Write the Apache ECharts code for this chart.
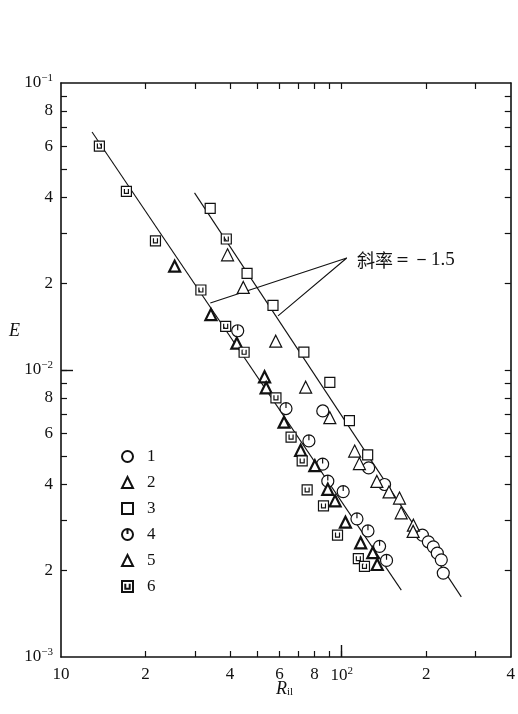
<!DOCTYPE html>
<html>
<head>
<meta charset="utf-8">
<script src="https://cdn.jsdelivr.net/npm/echarts@6/dist/echarts.min.js"></script>
<style>
  html, body { margin: 0; padding: 0; background: #fff; }
  #chart { width: 518px; height: 714px; }
</style>
</head>
<body>
<div id="chart"></div>
<script>
// Measured points: [R, E] pairs per run
const run1 = [[85.6, 0.00720], [124.7, 0.00456], [142.1, 0.00399], [193.8, 0.00266], [203.5, 0.00252],
  [212.0, 0.00242], [219.0, 0.00230], [226.3, 0.00218], [230.0, 0.00196]];
const run2 = [[39.2, 0.0252], [44.6, 0.0194], [58.2, 0.0126], [74.4, 0.00871], [90.7, 0.00682],
  [111.2, 0.00522], [115.6, 0.00472], [133.4, 0.00409], [147.4, 0.00376], [160.6, 0.00358],
  [162.8, 0.00318], [180.0, 0.00288], [179.6, 0.00274]];
const run3 = [[34.0, 0.0366], [46.0, 0.0217], [56.9, 0.0168], [73.3, 0.01155], [90.7, 0.00906],
  [106.5, 0.00666], [123.7, 0.00506]];
const run4 = [[42.6, 0.0137], [63.3, 0.00734], [76.4, 0.00566], [85.5, 0.00470], [89.2, 0.00410],
  [101.2, 0.00377], [113.3, 0.00303], [124.0, 0.00275], [136.4, 0.00243], [144.4, 0.00217]];
const run5 = [[25.4, 0.0230], [34.2, 0.0156], [42.3, 0.0124], [53.1, 0.00947], [53.8, 0.00867],
  [62.3, 0.00658], [71.4, 0.00525], [80.2, 0.00464], [89.2, 0.00384], [94.7, 0.00350],
  [103.1, 0.00295], [116.8, 0.00250], [129.0, 0.00231], [133.8, 0.00210]];
const run6 = [[13.7, 0.0603], [17.1, 0.0419], [21.7, 0.0282], [31.5, 0.0190], [38.6, 0.0142],
  [38.8, 0.0286], [44.9, 0.01153], [58.3, 0.00800], [66.0, 0.00584], [72.3, 0.00482],
  [75.3, 0.00382], [86.1, 0.00336], [96.6, 0.00266], [114.6, 0.00220], [120.5, 0.00207]];

// Two fitted lines of slope -1.5
const fitLower = [[12.9, 0.0675], [163, 0.00171]];
const fitUpper = [[29.9, 0.0414], [266.6, 0.00162]];
// Leader lines from the slope note to both fits
const leader = [[34.03, 0.01712], [104.2, 0.02456], [59.3, 0.01543]];

// Axis ticks and labels
const xTicks = [20, 30, 40, 50, 60, 70, 80, 90, 100, 200, 300];
const xLabels = [10, 20, 40, 60, 80, 100, 200, 400];
const yTicks = [0.002, 0.003, 0.004, 0.005, 0.006, 0.007, 0.008, 0.009, 0.01,
  0.02, 0.03, 0.04, 0.05, 0.06, 0.07, 0.08, 0.09];
const yLabels = [0.001, 0.002, 0.004, 0.006, 0.008, 0.01, 0.02, 0.04, 0.06, 0.08, 0.1];

const seriesNames = ['1', '2', '3', '4', '5', '6'];

const SERIF = '"Liberation Serif", "DejaVu Serif", serif';
const INK = '#111';

function logLabel(v) {
  const e = Math.floor(Math.log10(v) + 1e-9);
  const m = Math.round(v / Math.pow(10, e));
  if (m !== 1) return String(m);
  if (e === 1) return '10';
  return '{b|10}{s|' + (e < 0 ? '\u2212' + (-e) : e) + '}';
}

const labelRich = {
  b: { fontFamily: SERIF, fontSize: 17, color: INK },
  s: { fontFamily: SERIF, fontSize: 11, color: INK, verticalAlign: 'top', padding: [0, 0, 9, 0] }
};

// Marker shapes
const symCircleTick = 'path://M0,-10A10,10 0 1,1 0,10A10,10 0 1,1 0,-10ZM0,-10L0,-1';
const symSquareTick = 'path://M-10,-10L10,-10L10,10L-10,10ZM-4,-5L-4,4L4,4L4,-5';

function scatter(name, data, symbol, size, bw) {
  return {
    name: name, type: 'scatter', data: data, symbol: symbol, symbolSize: size,
    itemStyle: { color: '#fff', borderColor: INK, borderWidth: bw, opacity: 1 },
    z: 5
  };
}

function line(name, data) {
  return {
    name: name, type: 'line', data: data, showSymbol: false, symbol: 'none',
    lineStyle: { color: INK, width: 1.1 }, silent: true, z: 3
  };
}

const frameLine = { show: true, lineStyle: { color: INK, width: 1.6 } };

const chart = echarts.init(document.getElementById('chart'));
chart.setOption({
  animation: false,
  backgroundColor: '#fff',
  grid: { left: 61, right: 5, top: 83, bottom: 57 },
  xAxis: [
    {
      type: 'log', logBase: 10, min: 10, max: 400, position: 'bottom',
      axisLine: frameLine,
      axisTick: { show: true, inside: true, length: 6, customValues: xTicks, lineStyle: { color: INK, width: 1.2 } },
      axisLabel: { customValues: xLabels, formatter: logLabel, margin: 9, color: INK,
        fontFamily: SERIF, fontSize: 17, rich: labelRich },
      splitLine: { show: false }, minorTick: { show: false }
    },
    {
      type: 'log', logBase: 10, min: 10, max: 400, position: 'top',
      axisLine: frameLine,
      axisTick: { show: true, inside: true, length: 6, customValues: xTicks, lineStyle: { color: INK, width: 1.2 } },
      axisLabel: { show: false }, splitLine: { show: false }
    },
    {
      type: 'log', logBase: 10, min: 10, max: 400, position: 'bottom',
      axisLine: { show: false },
      axisTick: { show: true, inside: true, length: 12, customValues: [100], lineStyle: { color: INK, width: 1.4 } },
      axisLabel: { show: false }, splitLine: { show: false }
    }
  ],
  yAxis: [
    {
      type: 'log', logBase: 10, min: 0.001, max: 0.1, position: 'left',
      axisLine: frameLine,
      axisTick: { show: true, inside: true, length: 6, customValues: yTicks, lineStyle: { color: INK, width: 1.2 } },
      axisLabel: { customValues: yLabels, formatter: logLabel, margin: 8, color: INK,
        fontFamily: SERIF, fontSize: 17, rich: labelRich },
      splitLine: { show: false }, minorTick: { show: false }
    },
    {
      type: 'log', logBase: 10, min: 0.001, max: 0.1, position: 'right',
      axisLine: frameLine,
      axisTick: { show: true, inside: true, length: 6, customValues: yTicks, lineStyle: { color: INK, width: 1.2 } },
      axisLabel: { show: false }, splitLine: { show: false }
    },
    {
      type: 'log', logBase: 10, min: 0.001, max: 0.1, position: 'left',
      axisLine: { show: false },
      axisTick: { show: true, inside: true, length: 12, customValues: [0.01], lineStyle: { color: INK, width: 1.4 } },
      axisLabel: { show: false }, splitLine: { show: false }
    }
  ],
  legend: {
    data: seriesNames, orient: 'vertical', left: 116, top: 443,
    itemWidth: 11, itemHeight: 11, itemGap: 9,
    textStyle: { fontFamily: SERIF, fontSize: 17, color: INK, padding: [0, 0, 0, 9] },
    selectedMode: false
  },
  series: [
    line('fit-lower', fitLower),
    line('fit-upper', fitUpper),
    line('slope-leader', leader),
    scatter('1', run1, 'circle', 12, 1.2),
    scatter('2', run2, 'triangle', 12, 1.2),
    scatter('3', run3, 'rect', 10, 1.2),
    scatter('4', run4, symCircleTick, 12, 1.2),
    scatter('5', run5, 'triangle', 11, 2.2),
    scatter('6', run6, symSquareTick, 10, 1.2)
  ],
  graphic: [
    {
      type: 'text', left: 357, top: 251,
      style: {
        text: '{c|斜率}{n|＝－1.5}',
        rich: {
          c: { fontFamily: '"Noto Sans CJK SC", sans-serif', fontSize: 18, fill: INK },
          n: { fontFamily: SERIF, fontSize: 19, fill: INK }
        }
      }
    },
    {
      type: 'text', left: 9, top: 322,
      style: { text: 'E', fontFamily: SERIF, fontSize: 18, fontStyle: 'italic', fill: INK }
    },
    {
      type: 'text', left: 276, top: 680,
      style: {
        text: '{r|R}{s|il}',
        rich: {
          r: { fontFamily: SERIF, fontSize: 18, fontStyle: 'italic', fill: INK },
          s: { fontFamily: SERIF, fontSize: 11, fill: INK, verticalAlign: 'bottom' }
        }
      }
    }
  ]
});
</script>
</body>
</html>
